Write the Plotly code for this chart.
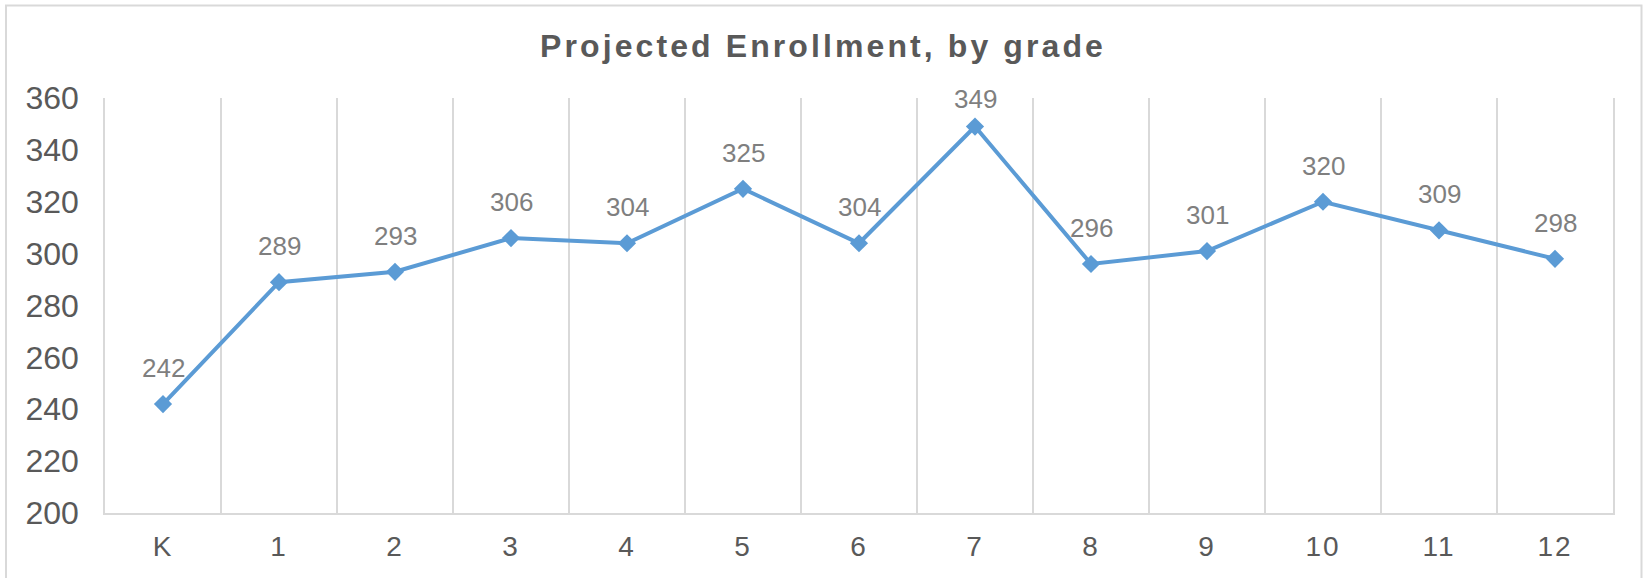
import plotly.graph_objects as go

grades = ["K", "1", "2", "3", "4", "5", "6", "7", "8", "9", "10", "11", "12"]
enrollment = [242, 289, 293, 306, 304, 325, 304, 349, 296, 301, 320, 309, 298]
y_ticks = [200, 220, 240, 260, 280, 300, 320, 340, 360]
title_text = "Projected Enrollment, by grade"

FONT = "Liberation Sans, Arial, sans-serif"
W, H = 1643, 578
L, R, T, B = 105, 30, 98, 65
pw, ph = W - L - R, H - T - B
Y0, Y1 = y_ticks[0], y_ticks[-1]

fig = go.Figure()
fig.add_trace(go.Scatter(
    x=grades, y=enrollment, mode="lines+markers",
    line=dict(color="#5b9bd5", width=4),
    marker=dict(symbol="diamond", size=14, color="#5b9bd5"),
    hoverinfo="x+y", showlegend=False,
))

# Data labels sit ~36px above each point, but (like Excel) are kept from
# rising above the top of the plot area.
annotations = []
for g, v in zip(grades, enrollment):
    py = T + (Y1 - v) / (Y1 - Y0) * ph
    shift = min(36, py - (T + 1.5))
    annotations.append(dict(
        x=g, y=v, xref="x", yref="y", text=str(v), showarrow=False,
        yshift=shift, xanchor="center", yanchor="middle",
        font=dict(family=FONT, size=26, color="#7f7f7f")))

fig.update_layout(
    width=W, height=H,
    margin=dict(l=L, r=R, t=T, b=B, pad=0),
    paper_bgcolor="white", plot_bgcolor="white",
    font=dict(family=FONT, color="#595959"),
    title=dict(text=title_text, x=823 / W, xanchor="center",
               y=1 - 45.5 / H, yref="container", yanchor="middle",
               font=dict(family=FONT, size=32, color="#595959", weight="bold")),
    annotations=annotations,
    shapes=[dict(type="rect", xref="paper", yref="paper",
                 x0=(6 - L) / pw, x1=(1641.5 - L) / pw,
                 y0=(T + ph - 600) / ph, y1=(T + ph - 5.5) / ph,
                 line=dict(color="#d9d9d9", width=2), layer="below")],
)
fig.update_xaxes(
    type="category", categoryorder="array", categoryarray=grades,
    range=[-0.5, len(grades) - 0.5],
    tickson="boundaries", showgrid=True, gridcolor="#d9d9d9", gridwidth=1.5,
    showline=True, linecolor="#d9d9d9", linewidth=2, mirror=False,
    ticks="", tickfont=dict(family=FONT, size=28, color="#595959"),
    ticklabelstandoff=7, zeroline=False, fixedrange=True,
)
fig.update_yaxes(
    range=[Y0, Y1], tickvals=y_ticks, showgrid=False, zeroline=False,
    showline=True, linecolor="#d9d9d9", linewidth=1.5, mirror=True,
    ticks="", tickfont=dict(family=FONT, size=32, color="#595959"),
    ticklabelstandoff=18, fixedrange=True,
)

post = """
document.body.style.margin = '0';
document.body.style.padding = '0';
var gd = document.getElementById('{plot_id}');
function spaceText(){
  gd.querySelectorAll('.gtitle').forEach(function(e){ e.style.letterSpacing = '3.1px'; });
  gd.querySelectorAll('.xtick text').forEach(function(e){ e.style.letterSpacing = '2px'; });
}
spaceText();
gd.on && gd.on('plotly_afterplot', spaceText);
"""

fig.write_html("out.html", post_script=post, config={"displayModeBar": False})
